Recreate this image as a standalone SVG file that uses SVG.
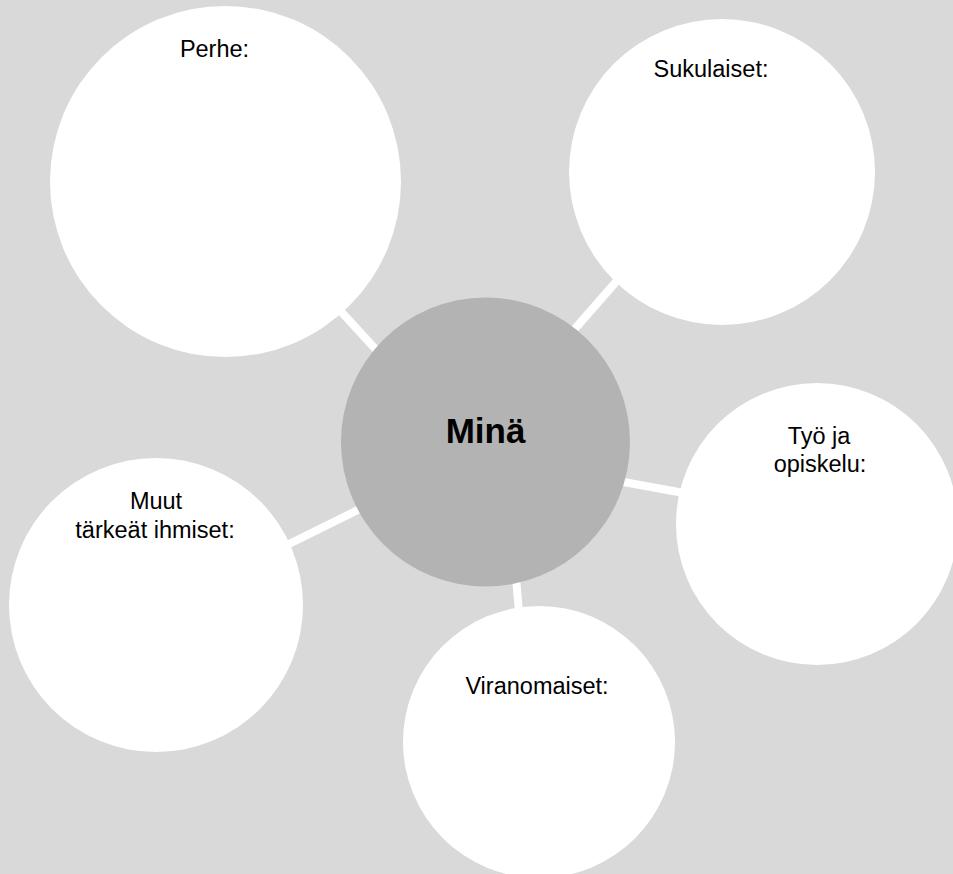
<svg xmlns="http://www.w3.org/2000/svg" width="953" height="874" viewBox="0 0 953 874">
<style>
.bg{fill:#d9d9d9}
.node{fill:#ffffff}
.center{fill:#b3b3b3}
.conn line{stroke:#ffffff;stroke-width:8;stroke-linecap:butt}
.lbl{font-family:"Liberation Sans",Arial,sans-serif;font-size:23.5px;fill:#000000;text-anchor:middle}
.main{font-family:"Liberation Sans",Arial,sans-serif;font-size:35px;font-weight:bold;fill:#000000;text-anchor:middle}
</style>
<rect class="bg" x="0" y="0" width="953" height="874"/>
<g id="connectors" class="conn">
<line x1="335" y1="305" x2="380" y2="354"/>
<line x1="622" y1="275" x2="573" y2="331"/>
<line x1="618" y1="481" x2="684" y2="493"/>
<line x1="285" y1="546" x2="362" y2="508"/>
<line x1="516" y1="578" x2="519" y2="612"/>
</g>
<g id="perhe">
<circle class="node" cx="225.5" cy="181.5" r="175.5"/>
<text class="lbl" x="214.5" y="57">Perhe:</text>
</g>
<g id="sukulaiset">
<circle class="node" cx="722" cy="172" r="153"/>
<text class="lbl" x="711" y="77">Sukulaiset:</text>
</g>
<g id="tyo">
<circle class="node" cx="817" cy="524" r="141"/>
<text class="lbl" x="819" y="444">Työ ja</text>
<text class="lbl" x="820" y="472">opiskelu:</text>
</g>
<g id="muut">
<circle class="node" cx="156" cy="605" r="147"/>
<text class="lbl" x="156" y="509">Muut</text>
<text class="lbl" x="155" y="538">tärkeät ihmiset:</text>
</g>
<g id="viranomaiset">
<circle class="node" cx="539" cy="742" r="136"/>
<text class="lbl" x="537" y="694">Viranomaiset:</text>
</g>
<g id="mina">
<circle class="center" cx="485.5" cy="442" r="144.5"/>
<text class="main" x="485.5" y="443">Minä</text>
</g>
</svg>
